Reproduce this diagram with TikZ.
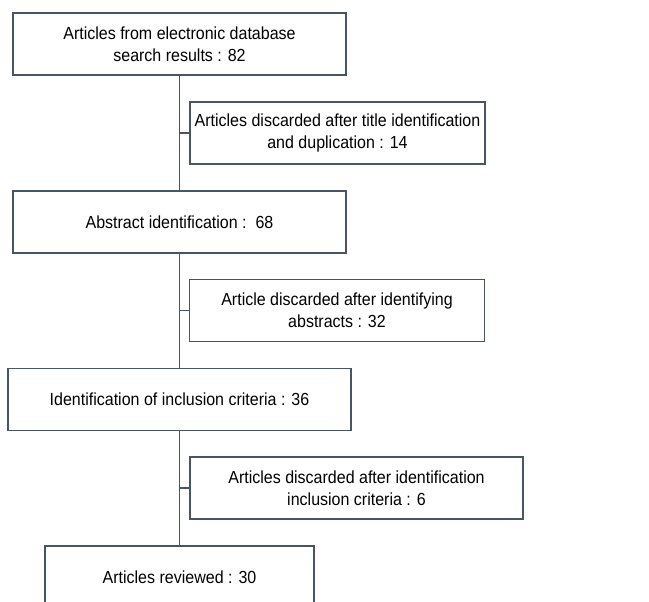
\documentclass[tikz,border=0pt]{standalone}
\usepackage{fontspec}
\setmainfont{Liberation Sans}[FakeStretch=0.915]
\usetikzlibrary{positioning}

\definecolor{lineslate}{RGB}{72,84,104}

\tikzset{
  stage/.style={rectangle, draw=lineslate, line width=1.1pt, align=center,
    minimum height=62pt, inner sep=2pt, font=\fontsize{17.5}{22}\selectfont},
  discard/.style={stage, minimum width=295pt},
  link/.style={draw=lineslate, line width=1.1pt}
}

\begin{document}
\begin{tikzpicture}[x=1pt,y=1pt]

% page frame
\useasboundingbox (0,0) rectangle (649,602);

% main stages
\node[stage, minimum width=333pt] (search) at (179.5,558) {Articles from electronic database\\search results : 82};
\node[stage, minimum width=333pt] (abstract) at (179.5,380) {Abstract identification :\ \ 68};
\node[stage, minimum width=343pt] (inclusion) at (179.5,202.5) {Identification of inclusion criteria : 36};
\node[stage, minimum width=269pt] (reviewed) at (179.5,25) {Articles reviewed : 30};

% discarded articles
\node[discard] (dtitle) at (337.5,469) {Articles discarded after title identification\\and duplication : 14};
\node[discard] (dabstract) at (337,291.5) {Article discarded after identifying\\abstracts : 32};
\node[discard, minimum width=333pt] (dinclusion) at (356.5,114) {Articles discarded after identification\\inclusion criteria : 6};

% trunk and branches
\draw[link] (search) -- (abstract);
\draw[link] (abstract) -- (inclusion);
\draw[link] (inclusion) -- (reviewed);
\draw[link] (search.south |- dtitle.west) -- (dtitle.west);
\draw[link] (abstract.south |- dabstract.west) -- (dabstract.west);
\draw[link] (inclusion.south |- dinclusion.west) -- (dinclusion.west);

\end{tikzpicture}
\end{document}
